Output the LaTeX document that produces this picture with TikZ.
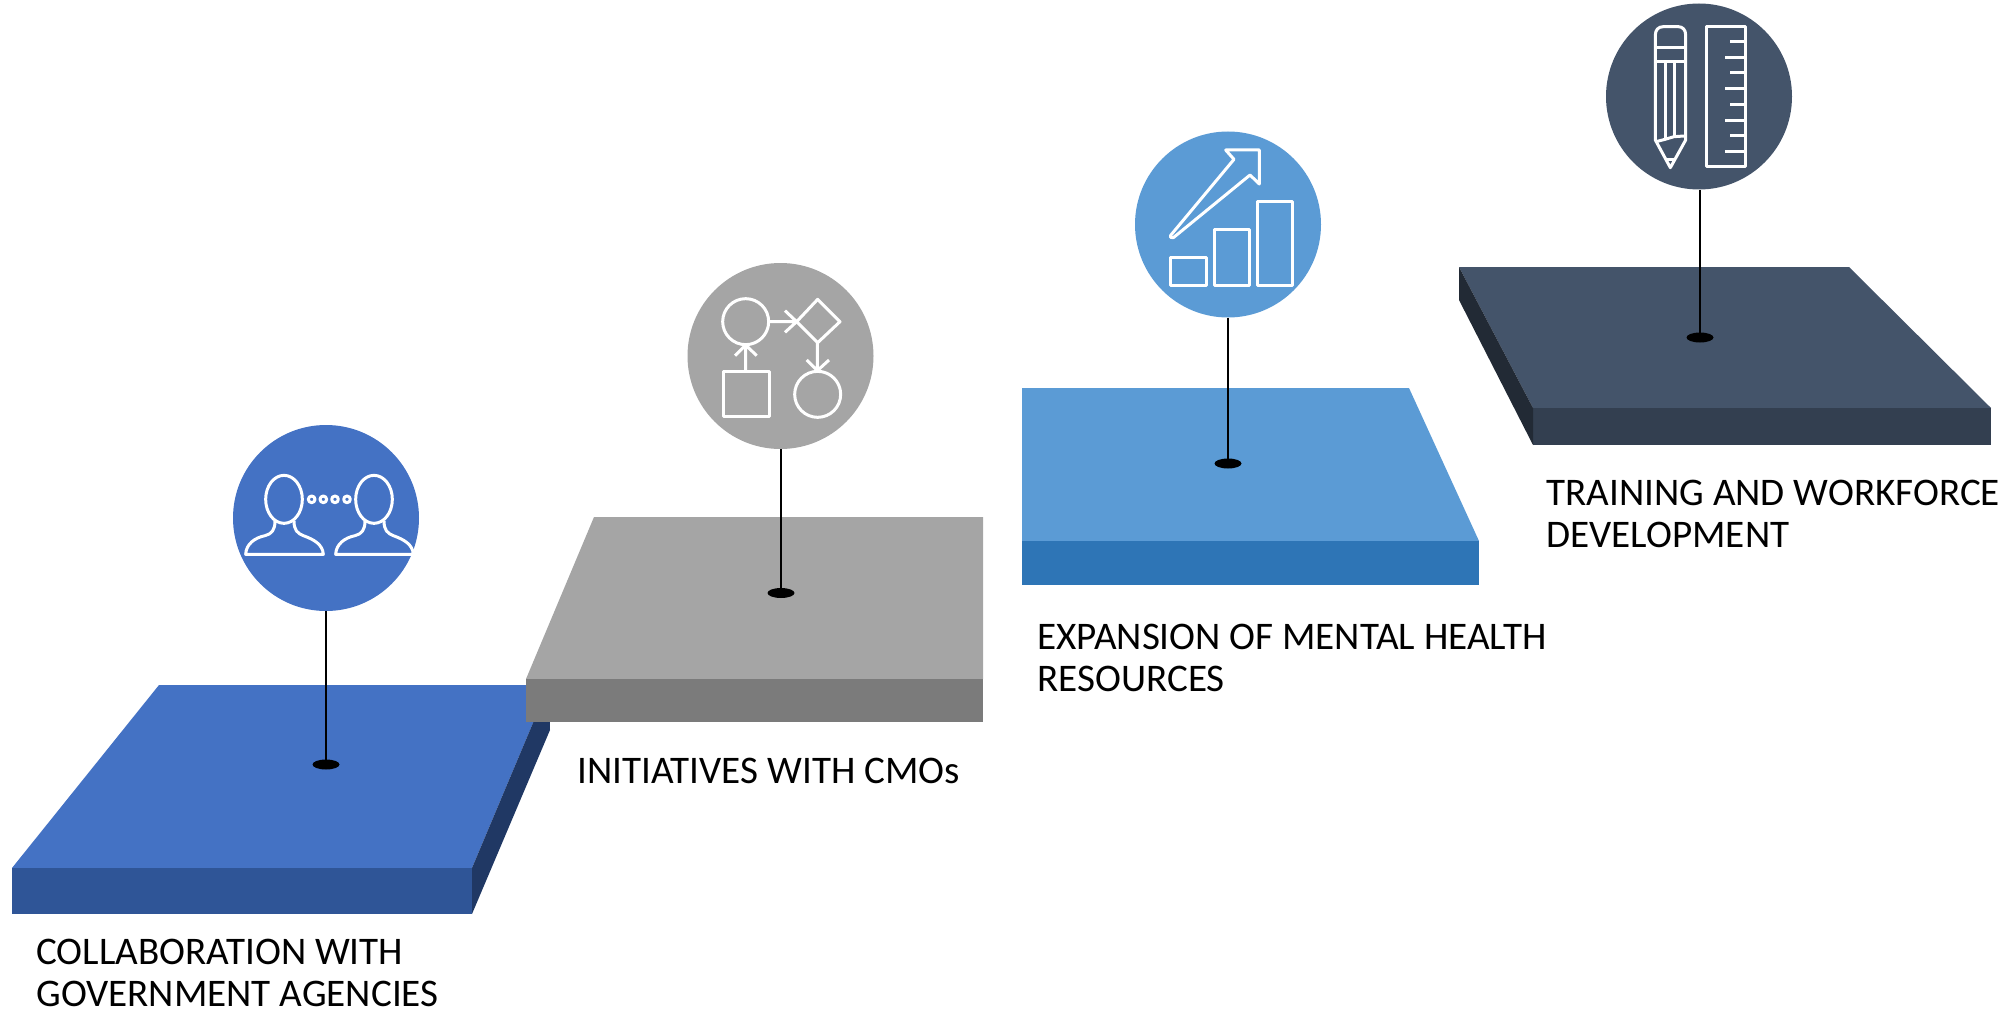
\documentclass[tikz,border=0pt]{standalone}
\usepackage{fontspec}
\setmainfont{Carlito}
\usetikzlibrary{shapes.geometric}
\definecolor{aTop}{HTML}{4472C4}\definecolor{aFront}{HTML}{2F5597}\definecolor{aSide}{HTML}{203864}
\definecolor{bTop}{HTML}{A5A5A5}\definecolor{bFront}{HTML}{7B7B7B}
\definecolor{cTop}{HTML}{5B9BD5}\definecolor{cFront}{HTML}{2E75B6}
\definecolor{dTop}{HTML}{44546A}\definecolor{dFront}{HTML}{333F50}\definecolor{dSide}{HTML}{222A35}
\tikzset{
 badge/.style={circle,inner sep=0pt,minimum size=93pt,fill=#1},
 pin/.style={ellipse,inner sep=0pt,minimum width=13.5pt,minimum height=5pt,fill=black},
 stem/.style={draw=black,line width=1.2pt},
 caption/.style={anchor=north west,inner sep=0pt,align=left,font=\fontsize{19.55}{20.9}\selectfont,text=black},
 glyph/.style={draw=white,line width=1.5pt,line join=round,fill=none},
 zoomed/.style={x=0.16667pt,y=-0.16667pt}
}
\begin{document}
\begin{tikzpicture}[x=0.5pt,y=-0.5pt]
\useasboundingbox (0,0) rectangle (2015,1011);
% platform 1
\fill[aTop] (12,868)--(159,685)--(549,685)--(472,868)--cycle;
\fill[aFront] (12,868)--(472,868)--(472,914)--(12,914)--cycle;
\fill[aSide] (472,868)--(549,685)--(550,730)--(472,914)--cycle;
% platform 2
\fill[bTop] (526,679)--(594,517)--(983,517)--(983,679)--cycle;
\fill[bFront] (526,679)--(983,679)--(983,722)--(526,722)--cycle;
% platform 3
\fill[cTop] (1022,541)--(1022,388)--(1409,388)--(1479,541)--cycle;
\fill[cFront] (1022,541)--(1479,541)--(1479,585)--(1022,585)--cycle;
% platform 4
\fill[dTop] (1533,408)--(1459,267)--(1849,267)--(1991,408)--cycle;
\fill[dFront] (1533,408)--(1991,408)--(1991,445)--(1533,445)--cycle;
\fill[dSide] (1459,267)--(1533,408)--(1533,445)--(1459,300)--cycle;
% badges and pins
\node[badge=aTop] (c1) at (326,518) {};
\node[badge=bTop] (c2) at (780.5,356) {};
\node[badge=cTop] (c3) at (1228,224.5) {};
\node[badge=dTop] (c4) at (1699,96.5) {};
\node[pin] (p1) at (326,764.5) {};
\node[pin] (p2) at (781,593) {};
\node[pin] (p3) at (1228,463.5) {};
\node[pin] (p4) at (1700,337.5) {};
\draw[stem] (c1.south) -- (p1.center);
\draw[stem] (c2.south-|p2.center) -- (p2.center);
\draw[stem] (c3.south) -- (p3.center);
\draw[stem] (c4.south-|p4.center) -- (p4.center);
% icon 1
\begin{scope}[shift={(220,420)},zoomed]
\foreach \d in {0,270}{
 \draw[glyph,xshift=\d*0.16667pt] (192,238) ellipse [x radius=55,y radius=72];
 \draw[glyph,xshift=\d*0.16667pt] (165,303) .. controls (165,330) and (155,342) .. (135,347) .. controls (105,353) and (78,372) .. (77,403) -- (310,403) .. controls (308,372) and (280,358) .. (250,347) .. controls (232,340) and (222,330) .. (222,303);
}
\foreach \x in {275,310,345,381} \draw[glyph] (\x,238) circle [radius=10];
\end{scope}
% icon 2
\begin{scope}[shift={(680,260)},zoomed]
\draw[glyph] (197,185) circle [radius=69];
\draw[glyph] (268,185) -- (350,185) (315,152) -- (350,185) -- (315,217);
\draw[glyph] (413,118) -- (480,185) -- (413,248) -- (350,185) -- cycle;
\draw[glyph] (412,248) -- (412,330) (380,300) -- (412,332) -- (447,300);
\draw[glyph] (413,403) circle [radius=69];
\draw[glyph] (130,335) rectangle (268,470);
\draw[glyph] (197,330) -- (197,255) (165,287) -- (197,255) -- (230,287);
\end{scope}
% icon 3
\begin{scope}[shift={(1130,130)},zoomed]
\draw[glyph] (122,383) rectangle (228,467);
\draw[glyph] (252,299) rectangle (357,467);
\draw[glyph] (381,215) rectangle (487,467);
\draw[glyph] (122,316) -- (312,88) -- (287,60) -- (388,60) -- (388,162) -- (360,135) -- (130,323) .. controls (122,326) and (118,320) .. (122,316) -- cycle;
\end{scope}
% icon 4
\begin{scope}[shift={(1600,0)},zoomed]
\draw[glyph] (166,420) -- (166,105) .. controls (166,90) and (175,80) .. (190,80) -- (235,80) .. controls (248,80) and (257,90) .. (257,105) -- (257,420) -- (211,503) -- cycle;
\draw[glyph] (166,142) -- (257,142) (166,185) -- (257,185);
\draw[glyph] (195,185) -- (195,418) (222,185) -- (222,410);
\draw[glyph] (168,425) -- (195,418) -- (222,410) -- (252,408);
\draw[glyph] (197,478) -- (222,478);
\draw[glyph] (320,80) rectangle (437,500);
\draw[glyph] (437,125) -- (390,125) (437,172) -- (375,172) (437,218) -- (390,218) (437,266) -- (375,266) (437,313) -- (390,313) (437,360) -- (375,360) (437,407) -- (390,407) (437,455) -- (375,455);
\end{scope}
% captions
\node[caption] (t1) at (36,939) {COLLABORATION WITH\\GOVERNMENT AGENCIES};
\node[caption] (t2) at (577,757.5) {INITIATIVES WITH CMOs};
\node[caption] (t3) at (1037,623.5) {EXPANSION OF MENTAL HEALTH\\RESOURCES};
\node[caption] (t4) at (1546,479.5) {TRAINING AND WORKFORCE\\DEVELOPMENT};
\end{tikzpicture}
\end{document}
